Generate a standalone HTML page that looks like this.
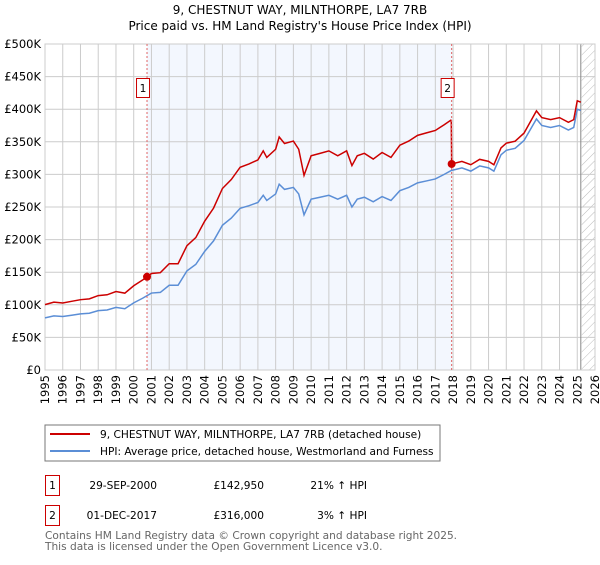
<!DOCTYPE html>
<html><head><meta charset="utf-8"><style>
body{margin:0;background:#fff;font-family:"Liberation Sans","DejaVu Sans",sans-serif}
svg text{font-family:"DejaVu Sans","Liberation Sans",sans-serif}
</style></head><body>
<svg id="c" width="600" height="560" xmlns="http://www.w3.org/2000/svg">
<defs><pattern id="hatch" width="6" height="6" patternUnits="userSpaceOnUse" patternTransform="rotate(45)"><line x1="0" y1="0" x2="0" y2="6" stroke="#bbb" stroke-width="1"/></pattern></defs>
<text x="300" y="14" text-anchor="middle" font-size="12" fill="#000">9, CHESTNUT WAY, MILNTHORPE, LA7 7RB</text>
<text x="300" y="30" text-anchor="middle" font-size="12" fill="#000">Price paid vs. HM Land Registry's House Price Index (HPI)</text>
<g id="plot"></g>
<g>
<rect x="45" y="425" width="395" height="36" fill="#fff" stroke="#777"/>
<line x1="50" y1="434" x2="90" y2="434" stroke="#cc0000" stroke-width="2"/>
<text x="100" y="438" font-size="10.6">9, CHESTNUT WAY, MILNTHORPE, LA7 7RB (detached house)</text>
<line x1="50" y1="451" x2="90" y2="451" stroke="#5b8ed6" stroke-width="2"/>
<text x="100" y="455" font-size="10.6">HPI: Average price, detached house, Westmorland and Furness</text>
</g>
<g font-size="10.6">
<rect x="45.5" y="475.5" width="14" height="20" fill="#fff" stroke="#cc0000"/>
<text x="52.5" y="489" text-anchor="middle">1</text>
<text x="157" y="489" text-anchor="end">29-SEP-2000</text>
<text x="264" y="489" text-anchor="end">£142,950</text>
<text x="367" y="489" text-anchor="end">21% ↑ HPI</text>
<rect x="45.5" y="505.5" width="14" height="20" fill="#fff" stroke="#cc0000"/>
<text x="52.5" y="519" text-anchor="middle">2</text>
<text x="157" y="519" text-anchor="end">01-DEC-2017</text>
<text x="264" y="519" text-anchor="end">£316,000</text>
<text x="367" y="519" text-anchor="end">3% ↑ HPI</text>
</g>
<text x="45" y="539" font-size="10.6" fill="#666">Contains HM Land Registry data © Crown copyright and database right 2025.</text>
<text x="45" y="550" font-size="10.6" fill="#666">This data is licensed under the Open Government Licence v3.0.</text>
</svg>
<script>
const hpiYears=[1995,1995.5,1996,1996.5,1997,1997.5,1998,1998.5,1999,1999.5,2000,2000.5,2001,2001.5,2002,2002.5,2003,2003.5,2004,2004.5,2005,2005.5,2006,2006.5,2007,2007.3,2007.5,2008,2008.2,2008.5,2009,2009.3,2009.6,2010,2010.5,2011,2011.5,2012,2012.3,2012.6,2013,2013.5,2014,2014.5,2015,2015.5,2016,2016.5,2017,2017.5,2017.9,2018.5,2019,2019.5,2020,2020.3,2020.7,2021,2021.5,2022,2022.7,2023,2023.5,2024,2024.5,2024.8,2025,2025.2];
const hpiValues=[80,83,82,84,86,87,91,92,96,94,103,110,118,119,130,130,152,162,182,198,222,233,248,252,257,268,260,270,285,277,280,270,238,262,265,268,262,268,250,262,265,258,266,260,275,280,287,290,293,300,306,310,305,313,310,305,330,337,340,352,385,375,372,375,368,372,400,398];
const saleYears=[2000.75,2017.92];
const salePrices=[142950,316000];
const yTicks=[0,50000,100000,150000,200000,250000,300000,350000,400000,450000,500000];
const yTickLabels=["£0","£50K","£100K","£150K","£200K","£250K","£300K","£350K","£400K","£450K","£500K"];
const xTicks=[1995,1996,1997,1998,1999,2000,2001,2002,2003,2004,2005,2006,2007,2008,2009,2010,2011,2012,2013,2014,2015,2016,2017,2018,2019,2020,2021,2022,2023,2024,2025,2026];
const x0=45,x1=595,yT=44,yB=370;
const X=y=>x0+(y-1995)/(2026-1995)*(x1-x0);
const Y=v=>yB-v/500000*(yB-yT);
const NS="http://www.w3.org/2000/svg";
const g=document.getElementById('plot');
function mk(t,a){const e=document.createElementNS(NS,t);for(const k in a)e.setAttribute(k,a[k]);g.appendChild(e);return e;}
function hpiAt(t){for(let i=0;i<hpiYears.length-1;i++){if(t<=hpiYears[i+1]){const f=(t-hpiYears[i])/(hpiYears[i+1]-hpiYears[i]);return (hpiValues[i]+f*(hpiValues[i+1]-hpiValues[i]))*1000;}}return hpiValues[hpiValues.length-1]*1000;}
let e;
e=mk('rect',{x:X(saleYears[0]),y:yT,width:X(saleYears[1])-X(saleYears[0]),height:yB-yT,fill:'#eef3fd',opacity:0.7});


e=mk('rect',{x:X(2025.25),y:yT,width:x1-X(2025.25),height:yB-yT,fill:'url(#hatch)'});


yTicks.forEach((v,i)=>{
 e=mk('line',{x1:x0,x2:x1,y1:Y(v),y2:Y(v),stroke:'#ccc'});
 
 
 e=mk('text',{x:x0-4,y:Y(v)+4,'text-anchor':'end','font-size':'11.5'});e.textContent=yTickLabels[i];
 
 
});
xTicks.forEach(t=>{
 e=mk('line',{x1:X(t),x2:X(t),y1:yT,y2:yB,stroke:'#ccc'});
 
 
 e=mk('text',{x:0,y:0,'text-anchor':'end','font-size':'11.5',transform:`translate(${X(t)+4},${yB+5}) rotate(-90)`});e.textContent=t;
 
 
});
e=mk('line',{x1:X(2025.2),x2:X(2025.2),y1:yT,y2:yB,stroke:'#888','stroke-width':1});


e=mk('rect',{x:x0,y:yT,width:x1-x0,height:yB-yT,fill:'none',stroke:'#ccc'});


e=mk('polyline',{points:hpiYears.map((t,i)=>X(t)+','+Y(hpiValues[i]*1000)).join(' '),fill:'none',stroke:'#5b8ed6','stroke-width':1.5});


const r1=salePrices[0]/hpiAt(saleYears[0]),r2=salePrices[1]/hpiAt(saleYears[1]);
const pts=[];
hpiYears.forEach((t,i)=>{if(t<saleYears[1])pts.push([t,hpiValues[i]*1000*r1]);});
pts.push([saleYears[1]-0.02,hpiAt(saleYears[1])*r1]);
pts.push([saleYears[1],salePrices[1]]);
hpiYears.forEach((t,i)=>{if(t>saleYears[1])pts.push([t,hpiValues[i]*1000*r2]);});
e=mk('polyline',{points:pts.map(p=>X(p[0])+','+Y(p[1])).join(' '),fill:'none',stroke:'#cc0000','stroke-width':1.5});


saleYears.forEach((t,i)=>{
 e=mk('line',{x1:X(t),x2:X(t),y1:yT,y2:yB,stroke:'#e06666','stroke-dasharray':'2,2'});
 
 
 e=mk('circle',{cx:X(t),cy:Y(salePrices[i]),r:4,fill:'#cc0000'});
 
 
 e=mk('rect',{x:X(t)-10.5,y:78.5,width:13,height:19,fill:'#fff',stroke:'#cc0000'});
 
 
 e=mk('text',{x:X(t)-4,y:92,'text-anchor':'middle','font-size':'10.6'});e.textContent=String(i+1);
 
 
});
</script>
</body></html>
